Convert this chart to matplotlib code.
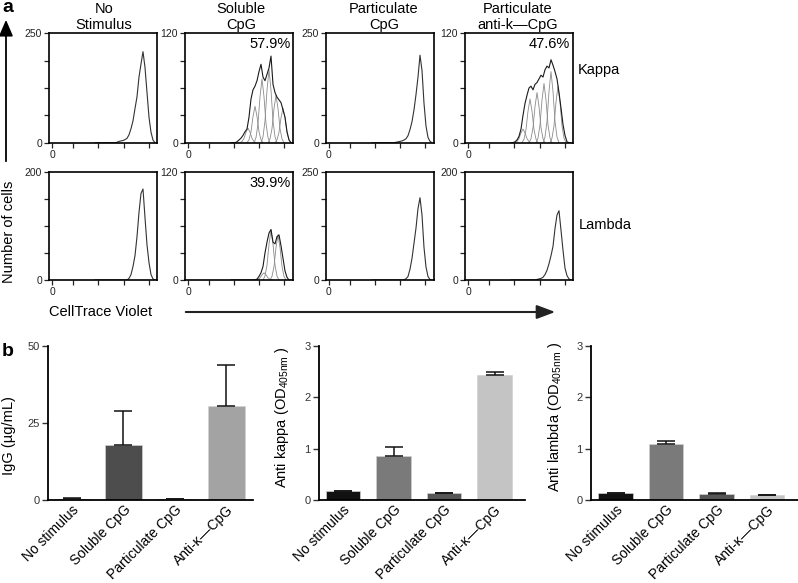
import matplotlib
matplotlib.use('Agg')
import matplotlib.pyplot as plt
from matplotlib.patches import FancyArrowPatch
from matplotlib.transforms import ScaledTranslation

plt.rcParams['font.family'] = ['Liberation Sans', 'DejaVu Sans']
plt.rcParams['mathtext.default'] = 'regular'

W, H = 798, 583

# ---------------- Data: CellTrace Violet histograms ----------------
hist_bins = [46, 48, 50, 52, 54, 56, 58, 60, 62, 64, 66, 68, 70, 72, 74, 76,
             78, 80, 82, 84, 86, 88, 90, 92, 94, 96, 98, 100, 102, 104, 106]

kappa_none = [0, 0, 0, 0, 0, 0, 0, 0, 0, 0, 0, 1, 3, 4, 5, 7,
              10, 18, 32, 50, 78, 105, 150, 180, 208, 172, 115, 58, 24, 6, 0]
kappa_soluble = [0, 0, 0, 1, 3, 5, 8, 12, 15, 28, 48, 58, 62, 68, 78, 86,
                 72, 68, 75, 82, 95, 64, 55, 50, 47, 44, 36, 28, 12, 3, 0]
kappa_particulate = [0, 0, 0, 0, 0, 0, 0, 0, 0, 0, 0, 0, 1, 2, 3, 4,
                     6, 9, 16, 30, 48, 75, 110, 150, 200, 165, 90, 38, 12, 3, 0]
kappa_anti = [0, 0, 1, 3, 7, 15, 30, 43, 52, 60, 62, 58, 64, 66, 70, 74,
              72, 80, 84, 82, 91, 85, 78, 70, 55, 38, 20, 8, 1, 0, 0]

lambda_none = [0, 0, 0, 0, 0, 0, 0, 0, 0, 0, 0, 0, 0, 0, 0, 0,
               0, 3, 10, 25, 45, 80, 125, 160, 168, 115, 65, 32, 10, 2, 0]
lambda_soluble = [0, 0, 0, 0, 0, 0, 0, 0, 0, 0, 0, 0, 0, 1, 4, 8,
                  15, 30, 42, 52, 56, 42, 40, 48, 50, 38, 24, 10, 3, 0, 0]
lambda_particulate = [0, 0, 0, 0, 0, 0, 0, 0, 0, 0, 0, 0, 0, 0, 0, 0,
                      0, 3, 8, 25, 50, 85, 120, 165, 190, 150, 75, 30, 8, 1, 0]
lambda_anti = [0, 0, 0, 0, 0, 0, 0, 0, 0, 0, 0, 0, 0, 1, 2, 3,
               5, 10, 18, 30, 45, 62, 95, 120, 128, 92, 55, 22, 8, 2, 0]

# division-generation peaks (gray fitted curves)
gen_offsets = [-8, -6, -4, -2, 0, 2, 4, 6, 8]
gen_profile = [0, 0.08, 0.3, 0.72, 1, 0.72, 0.3, 0.08, 0]
kappa_soluble_gen_centers = [63, 70, 77, 84, 91, 98]
kappa_soluble_gen_heights = [16, 40, 70, 80, 52, 38]
kappa_anti_gen_centers = [58, 65, 72, 79, 86, 93]
kappa_anti_gen_heights = [15, 48, 55, 65, 78, 62]
lambda_soluble_gen_centers = [79, 86, 93]
lambda_soluble_gen_heights = [8, 55, 50]

conditions = ['No\nStimulus', 'Soluble\nCpG', 'Particulate\nCpG', 'Particulate\nanti-k\u2014CpG']
kappa_ymax = [250, 120, 250, 120]
lambda_ymax = [200, 120, 250, 200]
kappa_pct = ['', '57.9%', '', '47.6%']
lambda_pct = ['', '39.9%', '', '']
hist_xticks = [3, 24, 49, 74.5, 99.5]
hist_xticklabels = ['0', '', '', '', '']

# ---------------- Data: ELISA bars ----------------
bar_labels = ['No stimulus', 'Soluble CpG', 'Particulate CpG', 'Anti-\u03ba\u2014CpG']
igg_mean = [0.4, 17.8, 0.25, 30.5]
igg_err = [0.1, 11.1, 0.05, 13.3]
kappa_od = [0.17, 0.86, 0.13, 2.43]
kappa_err = [0.01, 0.17, 0.01, 0.06]
lambda_od = [0.14, 1.10, 0.12, 0.09]
lambda_err = [0.005, 0.05, 0.01, 0.005]
igg_ticks = [0, 25, 50]
od_ticks = [0, 1, 2, 3]
igg_colors = ['#1e1e1e', '#4d4d4d', '#2a2a2a', '#a3a3a3']
od_colors = ['#111111', '#7a7a7a', '#555555', '#c4c4c4']

# ---------------- Layout helpers ----------------
def fx(px):
    return px / W


def fy(py):
    return 1 - py / H


fig = plt.figure(figsize=(W / 100, H / 100), dpi=100)

hist_left = [49, 185, 326, 465]
hist_w = 108
rows = [(33.3, 142.7), (171.7, 280.0)]

row_data = [
    ([kappa_none, kappa_soluble, kappa_particulate, kappa_anti], kappa_ymax, kappa_pct,
     {1: (kappa_soluble_gen_centers, kappa_soluble_gen_heights),
      3: (kappa_anti_gen_centers, kappa_anti_gen_heights)}),
    ([lambda_none, lambda_soluble, lambda_particulate, lambda_anti], lambda_ymax, lambda_pct,
     {1: (lambda_soluble_gen_centers, lambda_soluble_gen_heights)}),
]

for r, (top, bot) in enumerate(rows):
    series, ymaxes, pcts, gens = row_data[r]
    for c in range(4):
        ax = fig.add_axes([fx(hist_left[c]), fy(bot), hist_w / W, (bot - top) / H])
        ymax = ymaxes[c]
        if c in gens:
            centers, heights = gens[c]
            for cen, h in zip(centers, heights):
                ax.plot([cen + o for o in gen_offsets], [h * p for p in gen_profile],
                        color='#8a8a8a', lw=0.6)
            ax.plot(hist_bins, series[c], color='#1a1a1a', lw=0.8)
        else:
            ax.plot(hist_bins, series[c], color='#333333', lw=0.8)
        ax.set_xlim(0, 108)
        ax.set_ylim(0, ymax)
        ax.set_yticks([0, ymax / 4, ymax / 2, 3 * ymax / 4, ymax])
        ax.set_yticklabels(['0', '', '', '', str(ymax)])
        ax.set_xticks(hist_xticks)
        ax.set_xticklabels(hist_xticklabels)
        ax.tick_params(direction='out', length=3.5, width=0.9, labelsize=7.5,
                       colors='#222222', pad=1.5)
        for s in ax.spines.values():
            s.set_linewidth(1.2)
        if pcts[c]:
            ax.text(0.975, 0.9, pcts[c], transform=ax.transAxes, ha='right', va='center',
                    fontsize=10.5)

# column titles
title_x = [104, 241, 384, 518]
for cx, t in zip(title_x, conditions):
    fig.text(fx(cx), fy(17), t, ha='center', va='center', fontsize=10.5, linespacing=1.15)

fig.text(fx(578), fy(70), 'Kappa', ha='left', va='center', fontsize=10.5)
fig.text(fx(579), fy(225), 'Lambda', ha='left', va='center', fontsize=10.5)
fig.text(fx(9), fy(232), 'Number of cells', rotation=90, ha='center', va='center', fontsize=10.5)
fig.text(fx(101), fy(312), 'CellTrace Violet', ha='center', va='center', fontsize=10.5)
fig.text(fx(2), fy(8), 'a', ha='left', va='center', fontsize=14, fontweight='bold')
fig.text(fx(2), fy(352), 'b', ha='left', va='center', fontsize=14, fontweight='bold')

arr_v = FancyArrowPatch((fx(6), fy(164)), (fx(6), fy(17)), transform=fig.transFigure,
                        arrowstyle='-|>,head_length=0.7,head_width=0.3', mutation_scale=14,
                        lw=1.3, color='black')
arr_h = FancyArrowPatch((fx(183), fy(312)), (fx(558), fy(312)), transform=fig.transFigure,
                        arrowstyle='-|>,head_length=0.8,head_width=0.3', mutation_scale=14,
                        lw=1.5, color='#222222')
fig.add_artist(arr_v)
fig.add_artist(arr_h)

# ---------------- Bar panels ----------------
bar_specs = [
    (48, 253, igg_mean, igg_err, igg_ticks, 50, igg_colors, -0.466, 3.515, 0.70,
     'IgG (\u00b5g/mL)', 9, 436),
    (319, 525, kappa_od, kappa_err, od_ticks, 3, od_colors, -0.475, 3.60, 0.68,
     'Anti kappa (OD$_{405nm}$ )', 282, 417),
    (591, 798, lambda_od, lambda_err, od_ticks, 3, od_colors, -0.485, 3.61, 0.68,
     'Anti lambda (OD$_{405nm}$ )', 555, 417),
]
label_shift = ScaledTranslation(5 / 100, 0, fig.dpi_scale_trans)
for (l, rgt, vals, errs, ticks, ymax, cols, x0, x1, bw, ylab, lx, ly) in bar_specs:
    ax = fig.add_axes([fx(l), fy(500), (rgt - l) / W, 154 / H])
    xs = list(range(len(vals)))
    ax.bar(xs, vals, width=bw, color=cols, edgecolor='#d0d0d0', linewidth=0.5, zorder=2)
    ax.errorbar(xs, vals, yerr=[[0] * len(errs), errs], fmt='none', ecolor='#111111',
                elinewidth=1.1, capsize=6.5, capthick=1.1, zorder=3)
    ax.set_xlim(x0, x1)
    ax.set_ylim(0, ymax)
    ax.set_yticks(ticks)
    ax.set_xticks(xs)
    ax.set_xticklabels(bar_labels, rotation=45, ha='right', va='top',
                       rotation_mode='anchor', fontsize=10)
    for lab in ax.get_xticklabels():
        lab.set_transform(lab.get_transform() + label_shift)
    ax.tick_params(axis='y', direction='out', length=4, width=1, labelsize=8,
                   colors='#333333', pad=2)
    ax.tick_params(axis='x', length=0, pad=2)
    ax.spines['top'].set_visible(False)
    ax.spines['right'].set_visible(False)
    ax.spines['left'].set_linewidth(1.3)
    ax.spines['bottom'].set_linewidth(1.3)
    fig.text(fx(lx), fy(ly), ylab, rotation=90, ha='center', va='center', fontsize=10.5)

fig.savefig('out.png', dpi=100)
